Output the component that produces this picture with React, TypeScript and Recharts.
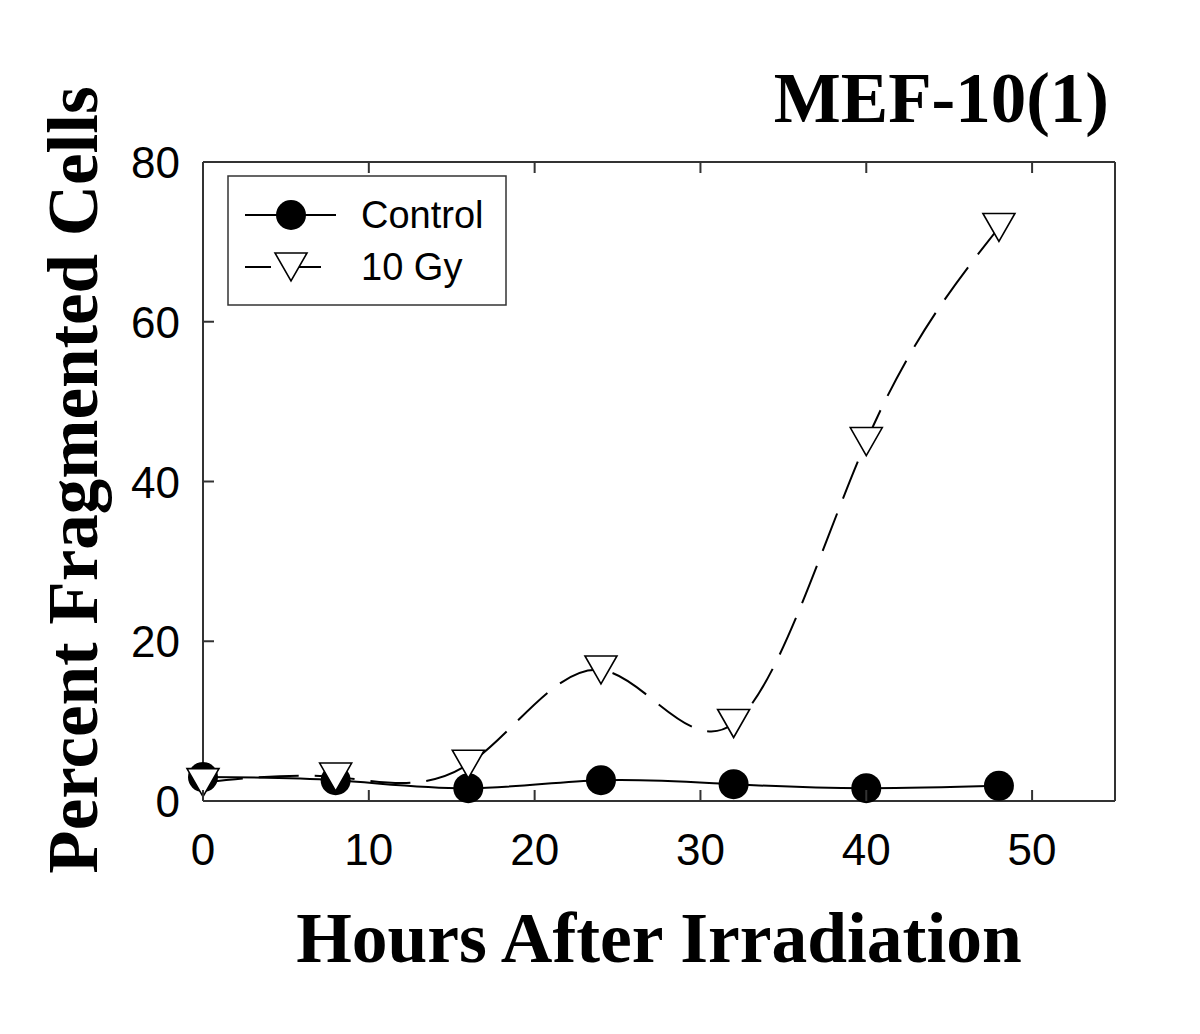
import { LineChart, Line, XAxis, YAxis } from "recharts";

const hours = [0, 8, 16, 24, 32, 40, 48];
const controlPct = [3.0, 2.6, 1.6, 2.6, 2.1, 1.6, 1.9];
const gy10Pct = [2.3, 3.0, 4.6, 16.4, 9.7, 45, 71.8];
const xTicks = [0, 10, 20, 30, 40, 50];
const yTicks = [0, 20, 40, 60, 80];

const data = hours.map((h, i) => ({ h, control: controlPct[i], gy10: gy10Pct[i] }));

const INK = "#000";
const FRAME = "#333";
const SANS = "'Liberation Sans', Arial, sans-serif";
const SERIF = "'Liberation Serif', 'Times New Roman', serif";
const DASH = "40 16";

const TriangleDot = (props: any) => {
  const { cx, cy, index } = props;
  if (cx == null || cy == null) return <g key={`t-${index}`} />;
  const w = 16, h = 14;
  return (
    <path
      key={`t-${index}`}
      d={`M${cx - w},${cy - h} L${cx + w},${cy - h} L${cx},${cy + h} Z`}
      fill="#fff"
      stroke={INK}
      strokeWidth={1.6}
    />
  );
};

const BottomTick = ({ x, y, payload }: any) => (
  <g>
    <line x1={x} x2={x} y1={y} y2={y - 11} stroke={FRAME} strokeWidth={2} />
    <text x={x} y={y + 64} textAnchor="middle" fontFamily={SANS} fontSize={44} fill={INK}>
      {payload.value}
    </text>
  </g>
);

const TopTick = ({ x, y }: any) => (
  <line x1={x} x2={x} y1={y} y2={y + 11} stroke={FRAME} strokeWidth={2} />
);

const LeftTick = ({ x, y, payload }: any) => (
  <g>
    <line x1={x} x2={x + 11} y1={y} y2={y} stroke={FRAME} strokeWidth={2} />
    <text x={x - 23} y={y + 16} textAnchor="end" fontFamily={SANS} fontSize={44} fill={INK}>
      {payload.value}
    </text>
  </g>
);

const RightTick = ({ x, y }: any) => (
  <line x1={x} x2={x - 11} y1={y} y2={y} stroke={FRAME} strokeWidth={2} />
);

export default function App() {
  return (
    <div style={{ position: "relative", width: 1200, height: 1034, background: "#fff" }}>
      <style>{`body{margin:0;}`}</style>
      <LineChart
        width={1200}
        height={1034}
        data={data}
        margin={{ top: 161, left: 202, right: 84, bottom: 232 }}
      >
        <XAxis
          dataKey="h"
          type="number"
          domain={[0, 55]}
          ticks={xTicks}
          height={1}
          tickSize={0}
          tickMargin={0}
          tickLine={false}
          axisLine={{ stroke: FRAME, strokeWidth: 2 }}
          tick={<BottomTick />}
          interval={0}
        />
        <XAxis
          xAxisId="top"
          orientation="top"
          dataKey="h"
          type="number"
          domain={[0, 55]}
          ticks={xTicks}
          height={1}
          tickSize={0}
          tickMargin={0}
          tickLine={false}
          axisLine={{ stroke: FRAME, strokeWidth: 2 }}
          tick={<TopTick />}
          interval={0}
        />
        <YAxis
          type="number"
          domain={[0, 80]}
          ticks={yTicks}
          width={1}
          tickSize={0}
          tickMargin={0}
          tickLine={false}
          axisLine={{ stroke: FRAME, strokeWidth: 2 }}
          tick={<LeftTick />}
          interval={0}
        />
        <YAxis
          yAxisId="right"
          orientation="right"
          type="number"
          domain={[0, 80]}
          ticks={yTicks}
          width={1}
          tickSize={0}
          tickMargin={0}
          tickLine={false}
          axisLine={{ stroke: FRAME, strokeWidth: 2 }}
          tick={<RightTick />}
          interval={0}
        />
        <Line
          type="natural"
          dataKey="control"
          name="Control"
          stroke={INK}
          strokeWidth={2}
          dot={{ r: 15, fill: INK, stroke: INK, strokeWidth: 0 }}
          activeDot={false}
          isAnimationActive={false}
        />
        <Line
          type="natural"
          dataKey="gy10"
          name="10 Gy"
          stroke={INK}
          strokeWidth={2}
          strokeDasharray={DASH}
          dot={<TriangleDot />}
          activeDot={false}
          isAnimationActive={false}
        />
      </LineChart>
      <svg
        width={1200}
        height={1034}
        style={{ position: "absolute", left: 0, top: 0, pointerEvents: "none" }}
      >
        <g transform="translate(227,175)">
          <rect x={1} y={1} width={278} height={129} fill="#fff" stroke={FRAME} strokeWidth={1.5} />
          <line x1={18} x2={109} y1={40} y2={40} stroke={INK} strokeWidth={2} />
          <circle cx={64} cy={40} r={15} fill={INK} />
          <text x={134} y={53} fontFamily={SANS} fontSize={38} fill={INK}>Control</text>
          <line x1={18} x2={109} y1={92} y2={92} stroke={INK} strokeWidth={2} strokeDasharray="26 20 30" />
          <path d="M48,78 L80,78 L64,106 Z" fill="#fff" stroke={INK} strokeWidth={1.6} />
          <text x={134} y={105} fontFamily={SANS} fontSize={38} fill={INK}>10 Gy</text>
        </g>
        <text x={1109} y={122} textAnchor="end" fontFamily={SERIF} fontWeight="bold" fontSize={71} fill={INK}>
          MEF-10(1)
        </text>
        <text x={659} y={962} textAnchor="middle" fontFamily={SERIF} fontWeight="bold" fontSize={71.5} fill={INK}>
          Hours After Irradiation
        </text>
        <text
          transform="translate(97,480) rotate(-90)"
          textAnchor="middle"
          fontFamily={SERIF}
          fontWeight="bold"
          fontSize={71}
          fill={INK}
        >
          Percent Fragmented Cells
        </text>
      </svg>
    </div>
  );
}
